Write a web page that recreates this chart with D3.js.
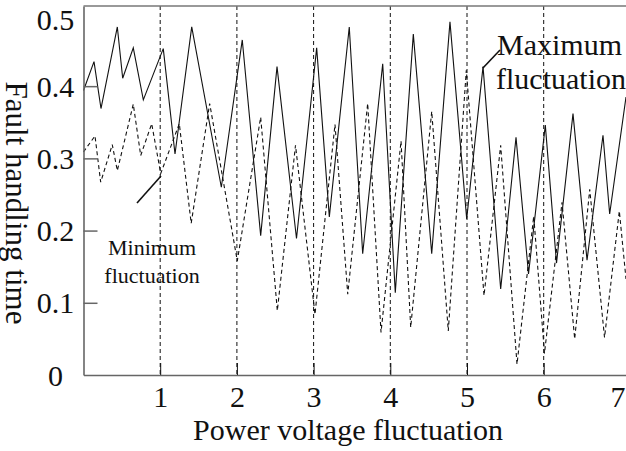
<!DOCTYPE html>
<html>
<head>
<meta charset="utf-8">
<script src="https://cdn.jsdelivr.net/npm/d3@7"></script>
<style>
body { margin: 0; background: #fff; }
svg text { font-family: "Liberation Serif", "Times New Roman", serif; fill: #111; }
</style>
</head>
<body>
<svg id="chart"></svg>
<script>
// maximum fluctuation (solid line)
const maxX = [0, 0.137, 0.228, 0.441, 0.511, 0.649, 0.78, 1.04, 1.193, 1.411, 1.797, 2.07, 2.31, 2.523, 2.777,
    3.04, 3.205, 3.465, 3.64, 3.901, 4.065, 4.3, 4.54, 4.778, 4.996, 5.209, 5.439, 5.639, 5.802, 6.021,
    6.167, 6.382, 6.565, 6.773, 6.86, 7.073];
const maxY = [0.394, 0.434, 0.369, 0.482, 0.411, 0.453, 0.381, 0.452, 0.306, 0.482, 0.26, 0.464, 0.193, 0.427, 0.189,
    0.453, 0.219, 0.482, 0.168, 0.431, 0.114, 0.472, 0.168, 0.489, 0.216, 0.427, 0.119, 0.329, 0.14, 0.346,
    0.155, 0.362, 0.159, 0.332, 0.223, 0.385];
// minimum fluctuation (dashed line)
const minX = [0, 0.15, 0.224, 0.375, 0.441, 0.649, 0.746, 0.889, 1.007, 1.249, 1.404, 1.645, 2.005, 2.31, 2.527,
    2.764, 3.018, 3.279, 3.445, 3.705, 3.879, 4.14, 4.266, 4.54, 4.756, 4.991, 5.222, 5.439, 5.652, 5.87,
    6.01, 6.239, 6.404, 6.6, 6.793, 6.986, 7.073];
const minY = [0.309, 0.331, 0.267, 0.319, 0.283, 0.375, 0.304, 0.348, 0.279, 0.348, 0.21, 0.376, 0.158, 0.357, 0.089,
    0.318, 0.084, 0.347, 0.112, 0.376, 0.059, 0.324, 0.066, 0.365, 0.061, 0.422, 0.11, 0.318, 0.015, 0.22,
    0.03, 0.239, 0.05, 0.257, 0.052, 0.227, 0.133];

const xTicks = [1, 2, 3, 4, 5, 6, 7];
const xGrid = [1, 2, 3, 4, 5, 6];
const yTicks = [0, 0.1, 0.2, 0.3, 0.4, 0.5];
const yTickLabels = ["0", "0.1", "0.2", "0.3", "0.4", "0.5"];

const width = 626, height = 451;
const plotTop = 6, plotBottom = 375, plotLeft = 83.5;

const svg = d3.select("#chart")
    .attr("width", width)
    .attr("height", height);

const x = d3.scaleLinear().domain([0, 7.073]).range([plotLeft, width]);
const y = d3.scaleLinear().domain([0, 0.511]).range([plotBottom, plotTop]);

// dashed vertical grid
svg.append("g")
    .selectAll("line")
    .data(xGrid)
    .join("line")
    .attr("x1", d => x(d)).attr("x2", d => x(d))
    .attr("y1", plotTop).attr("y2", plotBottom)
    .attr("stroke", "#111")
    .attr("stroke-width", 1)
    .attr("stroke-dasharray", "4,3");

const line = d3.line()
    .x(d => x(d[0]))
    .y(d => y(d[1]));

svg.append("path")
    .datum(d3.zip(minX, minY))
    .attr("d", line)
    .attr("fill", "none")
    .attr("stroke", "#111")
    .attr("stroke-width", 1.1)
    .attr("stroke-dasharray", "4,3");

svg.append("path")
    .datum(d3.zip(maxX, maxY))
    .attr("d", line)
    .attr("fill", "none")
    .attr("stroke", "#111")
    .attr("stroke-width", 1.1);

// x axis
const xAxis = svg.append("g")
    .attr("transform", `translate(0,${plotBottom})`)
    .call(d3.axisBottom(x).tickValues(xTicks).tickSizeInner(-12).tickSizeOuter(0));
xAxis.select(".domain").attr("stroke", "#666").attr("stroke-width", 1.6);
xAxis.selectAll(".tick line").attr("stroke", "#111").attr("stroke-width", 1)
    .attr("display", d => d === 7 ? "none" : null);
xAxis.selectAll(".tick text")
    .attr("y", 32).attr("dy", null)
    .attr("dx", d => d === 7 ? "-3" : null)
    .style("font-size", "30px");

// y axis
const yAxis = svg.append("g")
    .attr("transform", `translate(${plotLeft},0)`)
    .call(d3.axisLeft(y).tickValues(yTicks).tickFormat((d, i) => yTickLabels[i]).tickSizeInner(-14).tickSizeOuter(0));
yAxis.select(".domain").attr("stroke", "#666").attr("stroke-width", 1.6);
yAxis.selectAll(".tick line").attr("stroke", "#666").attr("stroke-width", 1.5)
    .attr("display", d => (d === 0 || d === 0.5) ? "none" : null);
yAxis.selectAll(".tick text")
    .attr("x", -28).attr("dy", d => d === 0.5 ? "0.52em" : "0.34em")
    .attr("text-anchor", "middle")
    .style("font-size", "30px");

// top border
svg.append("line")
    .attr("x1", plotLeft).attr("x2", width)
    .attr("y1", plotTop).attr("y2", plotTop)
    .attr("stroke", "#777").attr("stroke-width", 1.6);

// axis titles
svg.append("text")
    .attr("x", 348).attr("y", 440)
    .attr("text-anchor", "middle")
    .style("font-size", "30px")
    .text("Power voltage fluctuation");

svg.append("text")
    .attr("transform", "translate(6,203) rotate(90)")
    .attr("text-anchor", "middle")
    .style("font-size", "31px")
    .text("Fault handling time");

// annotations
svg.append("line")
    .attr("x1", 482.7).attr("y1", 68.3).attr("x2", 500).attr("y2", 50)
    .attr("stroke", "#111").attr("stroke-width", 1.6);
const maxLabel = svg.append("text")
    .style("font-size", "30px");
maxLabel.append("tspan").attr("x", 497).attr("y", 55).text("Maximum");
maxLabel.append("tspan").attr("x", 496).attr("y", 89).text("fluctuation");

svg.append("line")
    .attr("x1", 137).attr("y1", 203).attr("x2", 161).attr("y2", 176)
    .attr("stroke", "#111").attr("stroke-width", 1.6);
const minLabel = svg.append("text")
    .attr("text-anchor", "middle")
    .style("font-size", "22px");
minLabel.append("tspan").attr("x", 152).attr("y", 255).text("Minimum");
minLabel.append("tspan").attr("x", 152).attr("y", 283).text("fluctuation");
</script>
</body>
</html>
